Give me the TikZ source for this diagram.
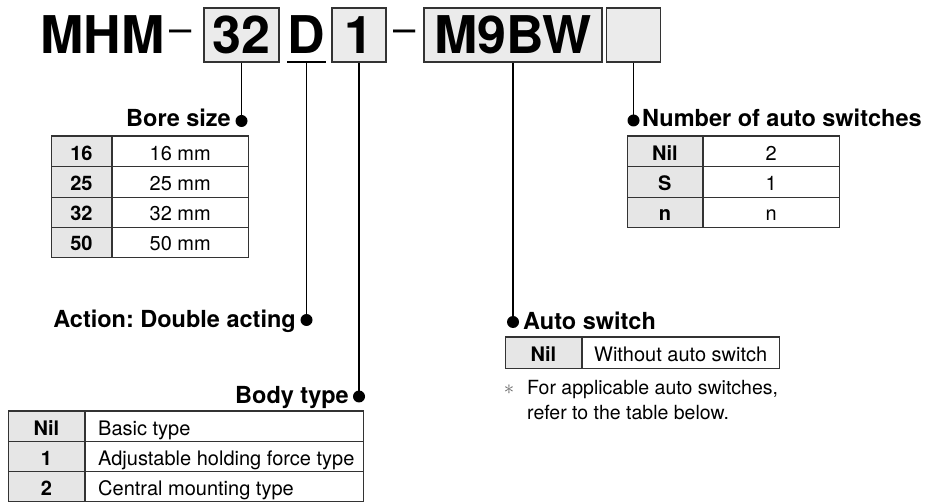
\documentclass[tikz,border=0pt]{standalone}
\usepackage{fontspec}
\setmainfont{TeX Gyre Heros}
\usetikzlibrary{positioning}
\frenchspacing
\definecolor{cellgrey}{HTML}{E6E6E6}
\definecolor{boxgrey}{HTML}{EBEBEB}
\definecolor{rulegrey}{HTML}{333333}
\tikzset{
  codefont/.style={font=\fontsize{52}{60}\selectfont\bfseries,inner sep=0pt},
  code/.style={codefont,text height=38pt,text depth=0pt,minimum height=54pt},
  codebox/.style={code,draw=rulegrey,line width=1.5pt,fill=boxgrey},
  dashfont/.style={font=\fontsize{40}{46}\selectfont,inner sep=0pt},
  lbl/.style={font=\fontsize{23.5}{28}\selectfont\bfseries,inner sep=0pt},
  cell/.style={draw=rulegrey,line width=.8pt,anchor=north west,inner sep=0pt,
    minimum height=30.3pt,text height=17pt,text depth=0pt},
  keycell/.style={cell,fill=cellgrey,font=\fontsize{20}{24}\selectfont\bfseries},
  valcell/.style={cell,font=\fontsize{20}{24}\selectfont},
  note/.style={font=\fontsize{19.5}{24}\selectfont,inner sep=0pt},
  lead/.style={line width=1.8pt},
  toprule/.style={line width=2pt,draw=rulegrey},
}

\begin{document}
\begin{tikzpicture}[x=1pt,y=-1pt]
\useasboundingbox (0,0) rectangle (932,502);

\node[codefont,anchor=base west] (series) at (40,54) {MHM};
\node[dashfont,anchor=base] (dash1) at (181,43) {–};
\node[codebox,minimum width=75pt] (bore) at (241.5,35) {32};
\node[code,minimum width=38pt] (action) at (306.5,35) {D};
\draw[line width=1.5pt] (action.south west) -- (action.south east);
\node[codebox,minimum width=54pt] (body) at (359,35) {1};
\node[dashfont,anchor=base] (dash2) at (405,43) {–};
\node[codebox,minimum width=178pt] (switch) at (513,35) {M9BW};
\node[codebox,minimum width=54pt] (number) at (633.5,35) {};

% leads and labels
\coordinate (boredot) at (bore |- 0,121);
\draw[lead] (bore) -- (boredot);
\fill (boredot) circle (6pt);
\node[lbl,anchor=base east] (borelbl) at (231,127) {Bore size};

\coordinate (actiondot) at (action |- 0,320);
\draw[lead] (action.south) -- (actiondot);
\fill (actiondot) circle (6pt);
\node[lbl,anchor=base east] (actionlbl) at (296,328) {Action: Double acting};

\coordinate (bodydot) at (body |- 0,396.5);
\draw[lead] (body) -- (bodydot);
\fill (bodydot) circle (6pt);
\node[lbl,anchor=base east] (bodylbl) at (349,403.5) {Body type};

\coordinate (switchdot) at (switch |- 0,322);
\draw[lead] (switch) -- (switchdot);
\fill (switchdot) circle (6pt);
\node[lbl,anchor=base west] (switchlbl) at (523,329.5) {Auto switch};

\coordinate (numberdot) at (number |- 0,120.5);
\draw[lead] (number) -- (numberdot);
\fill (numberdot) circle (6pt);
\node[lbl,anchor=base west] (numberlbl) at (642,127) {Number of auto switches};

% bore size
\foreach \k/\v [count=\i from 0] in {16/16 mm,25/25 mm,32/32 mm,50/50 mm}{
  \node[keycell,minimum width=60pt] (borek\i) at (51,136+30.3*\i) {\k};
  \node[valcell,minimum width=136pt] (borev\i) at (borek\i.north east) {\v};
}
\draw[toprule] (borek0.north west) -- (borev0.north east);

% number of auto switches
\foreach \k/\v [count=\i from 0] in {Nil/2,S/1,n/n}{
  \node[keycell,minimum width=75pt] (numberk\i) at (627,136+30.3*\i) {\k};
  \node[valcell,minimum width=136pt] (numberv\i) at (numberk\i.north east) {\v};
}
\draw[toprule] (numberk0.north west) -- (numberv0.north east);

% body type
\foreach \k/\v [count=\i from 0] in {Nil/Basic type,1/Adjustable holding force type,2/Central mounting type}{
  \node[keycell,minimum width=76pt] (bodyk\i) at (8,411+30*\i) {\k};
  \node[valcell,minimum width=278pt] (bodyv\i) at (bodyk\i.north east) {};
  \node[valcell,draw=none,anchor=west] (bodyt\i) at ([xshift=13pt]bodyv\i.west) {\v};
}
\draw[toprule] (bodyk0.north west) -- (bodyv0.north east);

% auto switch
\node[keycell,minimum width=76pt,minimum height=31pt] (switchk0) at (505,337) {Nil};
\node[valcell,minimum width=197pt,minimum height=31pt] (switchv0) at (switchk0.north east) {Without auto switch};
\draw[toprule] (switchk0.north west) -- (switchv0.north east);

\node[note,text=black!60,anchor=center] (star) at (509,390) {$\ast$};
\node[note,anchor=base west] (note1) at (527,395) {For applicable auto switches,};
\node[note,anchor=base west] (note2) at (527,420) {refer to the table below.};
\end{tikzpicture}
\end{document}
